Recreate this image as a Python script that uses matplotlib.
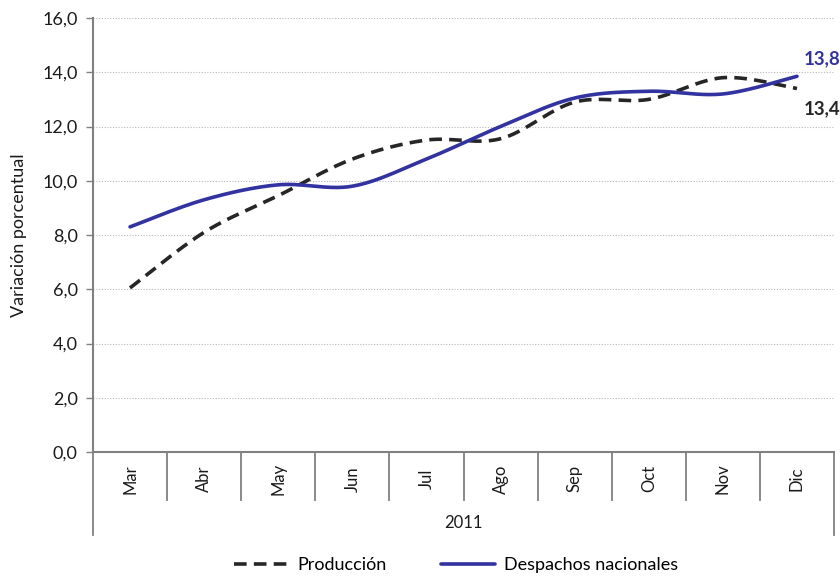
import numpy as np
import matplotlib.pyplot as plt

plt.rcParams['font.family'] = ['Lato', 'DejaVu Sans']

# datos
meses = ['Mar', 'Abr', 'May', 'Jun', 'Jul', 'Ago', 'Sep', 'Oct', 'Nov', 'Dic']
produccion = [6.05, 8.1, 9.45, 10.8, 11.5, 11.55, 12.9, 13.0, 13.8, 13.4]
despachos = [8.3, 9.3, 9.85, 9.8, 10.8, 12.0, 13.05, 13.3, 13.2, 13.85]
anio = '2011'
yticks = [0, 2, 4, 6, 8, 10, 12, 14, 16]


def suavizar(y, n=40):
    # curva suavizada tipo Excel (Bezier con puntos de control Catmull-Rom)
    y = np.asarray(y, dtype=float)
    x = np.arange(len(y), dtype=float)
    xs, ys = [], []
    for i in range(len(y) - 1):
        i0, i3 = max(i - 1, 0), min(i + 2, len(y) - 1)
        p0 = np.array([x[i], y[i]])
        p3 = np.array([x[i + 1], y[i + 1]])
        c1 = p0 + (p3 - np.array([x[i0], y[i0]])) / 6
        c2 = p3 - (np.array([x[i3], y[i3]]) - p0) / 6
        t = np.linspace(0, 1, n)[:, None]
        b = (1 - t) ** 3 * p0 + 3 * (1 - t) ** 2 * t * c1 + 3 * (1 - t) * t ** 2 * c2 + t ** 3 * p3
        xs.extend(b[:, 0])
        ys.extend(b[:, 1])
    return np.array(xs), np.array(ys)


fig = plt.figure(figsize=(8.4, 5.77), dpi=100)
ax = fig.add_axes([0.1107, 0.2166, 0.8822, 0.7522])

azul = '#3232A0'
negro = '#262626'
gris = '#808080'
texto = '#1a1a1a'

xs, ys = suavizar(produccion)
ax.plot(xs, ys, color=negro, lw=2.6, linestyle=(0, (3.5, 2)), label='Producción', solid_capstyle='butt')
xs, ys = suavizar(despachos)
ax.plot(xs, ys, color=azul, lw=2.6, label='Despachos nacionales', solid_capstyle='round')

ax.set_xlim(-0.5, len(meses) - 0.5)
ax.set_ylim(0, 16)
ax.set_yticks(yticks)
ax.set_yticklabels([f'{v:.1f}'.replace('.', ',') for v in yticks], fontsize=13, color=texto)
ax.tick_params(axis='y', length=5, width=1, color=gris, pad=6)
ax.set_xticks([])

ax.grid(axis='y', color='#b8b8b8', linestyle=(0, (1, 1.5)), lw=0.8)
ax.set_axisbelow(True)

for s in ['top', 'right']:
    ax.spines[s].set_visible(False)
for s in ['left', 'bottom']:
    ax.spines[s].set_color(gris)
    ax.spines[s].set_linewidth(1.5)

ax.set_ylabel('Variación porcentual', fontsize=13, color=texto, labelpad=11)

# eje de categorias con dos niveles
trans = ax.get_xaxis_transform()
n = len(meses)
for k in range(n + 1):
    xb = k - 0.5
    y_fin = -0.191 if k in (0, n) else -0.1106
    ax.plot([xb, xb], [0, y_fin], transform=trans, color=gris, lw=1.3, clip_on=False)
for i, m in enumerate(meses):
    ax.text(i, -0.062, m, transform=trans, rotation=90, ha='center', va='center',
            fontsize=12, color=texto)
ax.text((n - 1) / 2, -0.163, anio, transform=trans, ha='center', va='center',
        fontsize=12, color=texto)

# etiquetas del ultimo dato
ax.text(n - 1 + 0.09, despachos[-1] + 0.35, f'{despachos[-1]:.1f}'.replace('.', ','),
        color=azul, fontsize=13.5, fontweight='bold', ha='left', va='bottom')
ax.text(n - 1 + 0.09, produccion[-1] - 0.42, f'{produccion[-1]:.1f}'.replace('.', ','),
        color=negro, fontsize=13.5, fontweight='bold', ha='left', va='top')

fig.legend(loc='lower center', bbox_to_anchor=(0.543, -0.022), ncol=2, frameon=False,
           fontsize=13, handlelength=3.0, columnspacing=3.0, handletextpad=0.5)

plt.savefig('out.png', dpi=100)
